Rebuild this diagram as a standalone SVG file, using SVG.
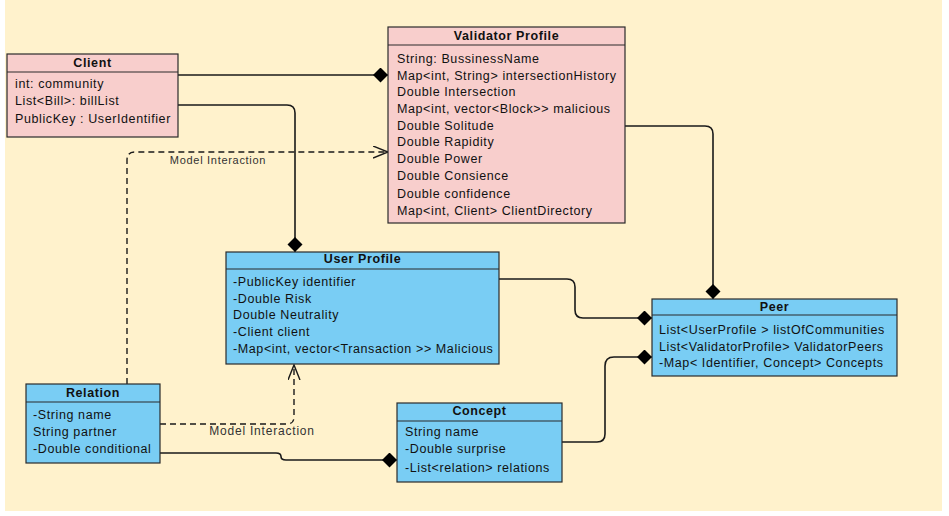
<svg xmlns="http://www.w3.org/2000/svg" width="949" height="516" viewBox="0 0 949 516">
  <defs>
    <style>
      .bg { fill: #FFF2CC; }
      .pink { fill: #F8CECC; stroke: #2b2b2b; stroke-width: 1.2; }
      .blue { fill: #79CDF4; stroke: #2b2b2b; stroke-width: 1.2; }
      .sep { stroke: #2b2b2b; stroke-width: 1.2; }
      .title { font-family: "Liberation Sans", Arial, sans-serif; font-size: 12.5px; font-weight: bold; fill: #111; letter-spacing: 0.6px; text-anchor: middle; }
      .attr { font-family: "Liberation Sans", Arial, sans-serif; font-size: 12.5px; fill: #111; letter-spacing: 0.6px; }
      .lbl { font-family: "Liberation Sans", Arial, sans-serif; fill: #333; text-anchor: middle; }
      .conn { fill: none; stroke: #1a1a1a; stroke-width: 1.6; }
      .dash { fill: none; stroke: #1a1a1a; stroke-width: 1.4; stroke-dasharray: 6 4; }
    </style>
    <marker id="diamond" markerUnits="userSpaceOnUse" markerWidth="16" markerHeight="16" refX="15" refY="7.5" orient="auto" viewBox="0 0 16 16">
      <path d="M0,7.5 L7.5,0 L15,7.5 L7.5,15 Z" fill="#000"/>
    </marker>
    <marker id="open" markerUnits="userSpaceOnUse" markerWidth="17" markerHeight="14" refX="15" refY="6.5" orient="auto" viewBox="0 0 17 14">
      <path d="M0,0.5 L15,6.5 L0,12.5" fill="none" stroke="#1a1a1a" stroke-width="1.4"/>
    </marker>
  </defs>

  <rect x="0" y="0" width="949" height="516" fill="#ffffff"/>
  <rect class="bg" x="5" y="0" width="937" height="511"/>

  <!-- connectors -->
  <g id="connectors">
    <path class="conn" d="M178,75 H388" marker-end="url(#diamond)"/>
    <path class="conn" d="M178,105 H287 Q295,105 295,113 V252" marker-end="url(#diamond)"/>
    <path class="conn" d="M625,126 H705 Q713,126 713,134 V299" marker-end="url(#diamond)"/>
    <path class="conn" d="M499,279 H567 Q575,279 575,287 V310 Q575,318 583,318 H652" marker-end="url(#diamond)"/>
    <path class="conn" d="M562,442 H597 Q605,442 605,434 V366 Q605,357 614,357 H652" marker-end="url(#diamond)"/>
    <path class="conn" d="M160,453 H276 Q281,453 281,456.5 Q281,460 286,460 H397" marker-end="url(#diamond)"/>
    <path class="dash" d="M127,384 V160 Q127,152 135,152 H388" marker-end="url(#open)"/>
    <path class="dash" d="M160,424 H287 Q294,424 294,417 V365" marker-end="url(#open)"/>
    <text class="lbl" x="218" y="164" font-size="11" letter-spacing="0.7">Model Interaction</text>
    <text class="lbl" x="262" y="434.5" font-size="12" letter-spacing="0.8">Model Interaction</text>
  </g>

  <!-- Client -->
  <g id="client">
    <rect class="pink" x="7" y="54" width="171" height="83"/>
    <line class="sep" x1="7" y1="72" x2="178" y2="72"/>
    <text class="title" x="92.5" y="67">Client</text>
    <text class="attr" x="15" y="87.5">int: community</text>
    <text class="attr" x="15" y="105">List&lt;Bill&gt;: billList</text>
    <text class="attr" x="15" y="122.5">PublicKey : UserIdentifier</text>
  </g>

  <!-- Validator Profile -->
  <g id="validator-profile">
    <rect class="pink" x="388" y="27" width="237" height="196"/>
    <line class="sep" x1="388" y1="45" x2="625" y2="45"/>
    <text class="title" x="506.5" y="40">Validator Profile</text>
    <text class="attr" x="397" y="63">String: BussinessName</text>
    <text class="attr" x="397" y="79.5">Map&lt;int, String&gt; intersectionHistory</text>
    <text class="attr" x="397" y="96">Double Intersection</text>
    <text class="attr" x="397" y="113">Map&lt;int, vector&lt;Block&gt;&gt; malicious</text>
    <text class="attr" x="397" y="129.5">Double Solitude</text>
    <text class="attr" x="397" y="146">Double Rapidity</text>
    <text class="attr" x="397" y="162.5">Double Power</text>
    <text class="attr" x="397" y="179.5">Double Consience</text>
    <text class="attr" x="397" y="198">Double confidence</text>
    <text class="attr" x="397" y="215">Map&lt;int, Client&gt; ClientDirectory</text>
  </g>

  <!-- User Profile -->
  <g id="user-profile">
    <rect class="blue" x="226" y="252" width="273" height="112"/>
    <line class="sep" x1="226" y1="269" x2="499" y2="269"/>
    <text class="title" x="362.5" y="263">User Profile</text>
    <text class="attr" x="233" y="286">-PublicKey identifier</text>
    <text class="attr" x="233" y="303">-Double Risk</text>
    <text class="attr" x="233" y="319">Double Neutrality</text>
    <text class="attr" x="233" y="335.5">-Client client</text>
    <text class="attr" x="233" y="352.5">-Map&lt;int, vector&lt;Transaction &gt;&gt; Malicious</text>
  </g>

  <!-- Peer -->
  <g id="peer">
    <rect class="blue" x="652" y="299" width="245" height="77"/>
    <line class="sep" x1="652" y1="315" x2="897" y2="315"/>
    <text class="title" x="774.5" y="311">Peer</text>
    <text class="attr" x="659" y="334">List&lt;UserProfile &gt; listOfCommunities</text>
    <text class="attr" x="659" y="351">List&lt;ValidatorProfile&gt; ValidatorPeers</text>
    <text class="attr" x="659" y="366.5">-Map&lt; Identifier, Concept&gt; Concepts</text>
  </g>

  <!-- Relation -->
  <g id="relation">
    <rect class="blue" x="26" y="384" width="134" height="79"/>
    <line class="sep" x1="26" y1="402" x2="160" y2="402"/>
    <text class="title" x="93" y="397">Relation</text>
    <text class="attr" x="33" y="419">-String name</text>
    <text class="attr" x="33" y="436">String partner</text>
    <text class="attr" x="33" y="452.5">-Double conditional</text>
  </g>

  <!-- Concept -->
  <g id="concept">
    <rect class="blue" x="397" y="403" width="165" height="79"/>
    <line class="sep" x1="397" y1="421" x2="562" y2="421"/>
    <text class="title" x="479.5" y="415">Concept</text>
    <text class="attr" x="405" y="436">String name</text>
    <text class="attr" x="405" y="453">-Double surprise</text>
    <text class="attr" x="405" y="472">-List&lt;relation&gt; relations</text>
  </g>
</svg>
